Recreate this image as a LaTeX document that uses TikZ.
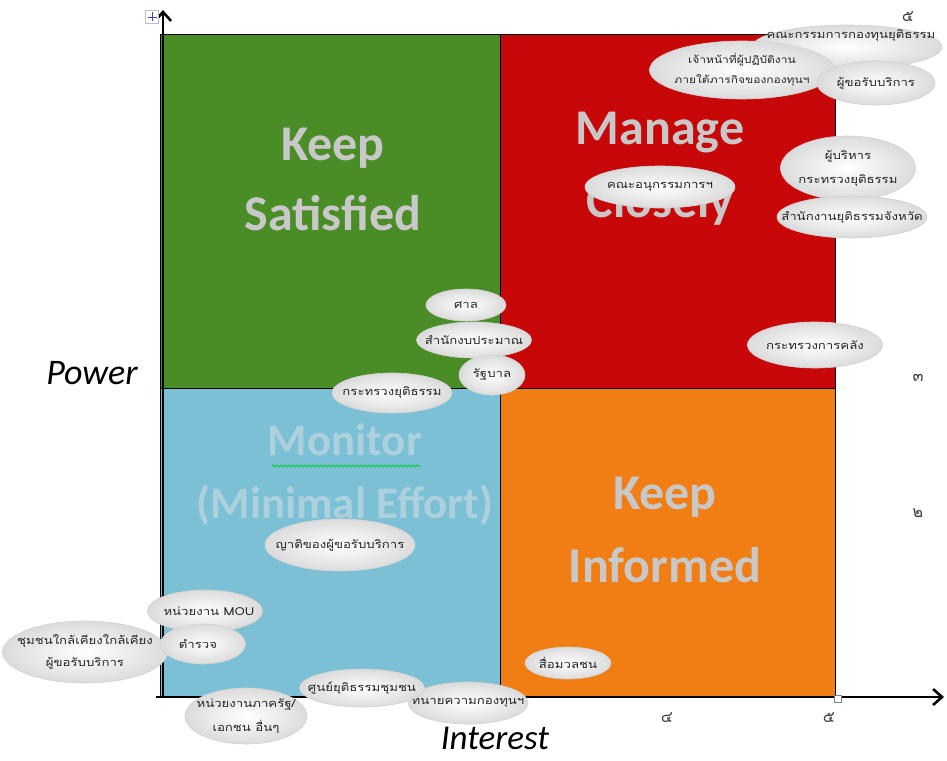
\documentclass[tikz,border=0pt]{standalone}
\usepackage{fontspec}
\setmainfont{Carlito}
\newfontfamily\thaifont[Script=Thai,FakeStretch=1.2]{Loma}
\newfontfamily\thaidigit[Script=Thai]{Loma}
\usetikzlibrary{shapes.geometric,arrows.meta,decorations.pathmorphing}
\definecolor{qgreen}{RGB}{74,140,38}
\definecolor{qred}{RGB}{200,8,8}
\definecolor{qblue}{RGB}{124,192,214}
\definecolor{qorange}{RGB}{240,126,20}
\definecolor{qlabel}{RGB}{200,200,200}
\definecolor{qfaint}{RGB}{172,208,220}
\tikzset{
  quad/.style={draw=black,line width=1pt},
  biglabel/.style={font=\fontsize{50}{52}\selectfont\bfseries,text=qlabel},
  blob/.style={ellipse,draw=gray!35,line width=0.6pt,shading=radial,inner color=white,outer color=gray!28,inner sep=0pt},
  bt/.style={inner sep=0pt,align=center,font=\thaifont\fontsize{11}{17}\selectfont,text=black!85},
  digit/.style={font=\thaidigit\fontsize{16}{17}\selectfont,text=black!75},
  axis/.style={line width=2.6pt,-{Straight Barb[length=9pt,width=16pt,line width=2.6pt]}}
}
\begin{document}
\begin{tikzpicture}[x=1pt,y=-1pt]
\useasboundingbox[fill=white] (0,0) rectangle (947,760);
% quadrants
\fill[qgreen] (160,35) rectangle (500,388);
\fill[qred] (500,35) rectangle (835,388);
\fill[qblue] (160,388) rectangle (500,697);
\fill[qorange] (500,388) rectangle (835,697);
\draw[quad] (160,35) rectangle (835,697);
\draw[quad] (500,35) -- (500,697);
\draw[quad] (160,388) -- (835,388);
% quadrant labels
\node[biglabel] (ks1) at (333,148) {Keep};
\node[biglabel] (ks2) at (333,213) {Satisfied};
\node[biglabel] (mc1) at (660,133) {Manage};
\node[biglabel] (mc2) at (660,204) {Closely};
\node[biglabel,text=qfaint,font=\fontsize{45}{47}\selectfont\bfseries] (mo1) at (345,440) {Monitor};
\node[biglabel,text=qfaint,font=\fontsize{45}{47}\selectfont\bfseries] (mo2) at (345,505) {(Minimal Effort)};
\node[biglabel] (ki1) at (665,497) {Keep};
\node[biglabel] (ki2) at (665,565) {Informed};
\coordinate (w1) at (272,466);
\coordinate (w2) at (420,466);
\draw[green!60!teal,line width=0.9pt,decorate,decoration={snake,segment length=4pt,amplitude=1pt}] (w1) -- (w2);
% axes
\coordinate (o) at (163,697);
\coordinate (ytop) at (163,10);
\coordinate (xo) at (156,697);
\coordinate (xend) at (944,697);
\draw[axis] (o) -- (ytop);
\draw[axis] (xo) -- (xend);
\node[font=\itshape\fontsize{36}{38}\selectfont] (power) at (92,373) {Power};
\node[font=\itshape\fontsize{35}{37}\selectfont] (interest) at (495,738) {Interest};
% move icon
\node[draw=gray!50,fill=white,minimum size=13pt,inner sep=0pt] (icon) at (152,17) {};
\draw[blue!50!gray,line width=0.8pt] ([xshift=-4.5pt]icon.center) -- ([xshift=4.5pt]icon.center);
\draw[blue!50!gray,line width=0.8pt] ([yshift=-4.5pt]icon.center) -- ([yshift=4.5pt]icon.center);
% marker square
\node[draw=gray,fill=white,minimum size=7pt,inner sep=0pt] (mark) at (838,699) {};
% digits
\node[digit] (d5t) at (908,17) {๕};
\node[digit] (d3) at (918,378) {๓};
\node[digit] (d2) at (918,513) {๒};
\node[digit] (d4) at (667,718) {๔};
\node[digit] (d5b) at (829,718) {๕};
% ellipses
\node[blob,minimum width=190pt,minimum height=44pt,label={[bt]center:\hspace*{8pt}คณะกรรมการกองทุนยุติธรรม\\[8pt]}] (b1) at (847,47) {};
\node[blob,minimum width=185pt,minimum height=58pt,label={[bt,font=\thaifont\fontsize{10}{20}\selectfont]center:เจ้าหน้าที่ผู้ปฏิบัติงาน\\ภายใต้ภารกิจของกองทุนฯ}] (b2) at (742,70) {};
\node[blob,minimum width=118pt,minimum height=44pt,label={[bt]center:ผู้ขอรับบริการ}] (b3) at (876,83) {};
\node[blob,minimum width=135pt,minimum height=64pt,label={[bt,font=\thaifont\fontsize{11}{24}\selectfont]center:ผู้บริหาร\\กระทรวงยุติธรรม}] (b4) at (848,168) {};
\node[blob,minimum width=150pt,minimum height=42pt,label={[bt]center:คณะอนุกรรมการฯ}] (b5) at (660,187) {};
\node[blob,minimum width=150pt,minimum height=42pt,label={[bt]center:สำนักงานยุติธรรมจังหวัด}] (b6) at (852,217) {};
\node[blob,minimum width=135pt,minimum height=46pt,label={[bt]center:กระทรวงการคลัง}] (b11) at (815,345) {};
\node[blob,minimum width=80pt,minimum height=32pt,label={[bt]center:ศาล}] (b7) at (466,305) {};
\node[blob,minimum width=115pt,minimum height=36pt,label={[bt]center:สำนักงบประมาณ}] (b8) at (474,340) {};
\node[blob,minimum width=120pt,minimum height=40pt,label={[bt]center:กระทรวงยุติธรรม}] (b10) at (392,393) {};
\node[blob,minimum width=66pt,minimum height=40pt,label={[bt]center:รัฐบาล}] (b9) at (492,375) {};
\node[blob,minimum width=150pt,minimum height=52pt,label={[bt]center:ญาติของผู้ขอรับบริการ}] (b12) at (340,545) {};
\node[blob,minimum width=115pt,minimum height=42pt,label={[bt]center:\hspace*{8pt}หน่วยงาน MOU}] (b13) at (205,611) {};
\node[blob,minimum width=165pt,minimum height=62pt,label={[bt,font=\thaifont\fontsize{11}{22}\selectfont]center:ชุมชนใกล้เคียงใกล้เคียง\\ผู้ขอรับบริการ}] (b14) at (85,652) {};
\node[blob,minimum width=85pt,minimum height=40pt,label={[bt]center:\hspace*{-10pt}ตำรวจ}] (b15) at (203,644) {};
\node[blob,minimum width=120pt,minimum height=42pt,label={[bt]center:ทนายความกองทุนฯ}] (b18) at (468,703) {};
\node[blob,minimum width=125pt,minimum height=38pt,label={[bt]center:ศูนย์ยุติธรรมชุมชน}] (b16) at (362,688) {};
\node[blob,minimum width=122pt,minimum height=56pt,label={[bt,font=\thaifont\fontsize{11}{24}\selectfont]center:หน่วยงานภาครัฐ/\\เอกชน อื่นๆ}] (b17) at (246,716) {};
\node[blob,minimum width=86pt,minimum height=32pt,label={[bt]center:สื่อมวลชน}] (b19) at (568,663) {};
\end{tikzpicture}
\end{document}
